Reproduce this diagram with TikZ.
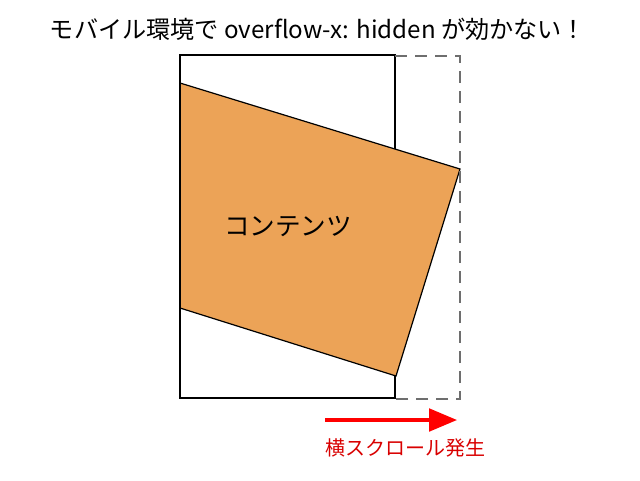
\documentclass[tikz,border=0pt]{standalone}
\usepackage{fontspec}
\setmainfont{Noto Sans CJK JP}
\usetikzlibrary{arrows.meta}
\definecolor{contentorange}{RGB}{236,163,87}
\definecolor{dashgray}{RGB}{110,110,110}
\begin{document}
\begin{tikzpicture}[x=0.75pt,y=-0.75pt,
  screen/.style={draw=black,line width=0.9pt},
  overflowline/.style={draw=dashgray,dashed,dash pattern=on 9pt off 6pt,line width=1pt},
  content/.style={fill=contentorange,draw=black,line width=0.9pt},
  scrollarrow/.style={draw=red,line width=2.4pt,-{Triangle[length=21pt,width=17pt]}},
  title/.style={font=\fontsize{18.1pt}{20pt}\selectfont},
  label/.style={font=\fontsize{19.2pt}{21pt}\selectfont},
  redlabel/.style={text=red!85!black,font=\fontsize{15pt}{17pt}\selectfont}]
\useasboundingbox (0,0) rectangle (640,480);
\fill[white] (0,0) rectangle (640,480);
% screen
\draw[screen] (180,55) rectangle (395,398);
% content
\coordinate (c1) at (180,83);
\coordinate (c2) at (460,169);
\coordinate (c3) at (396,376);
\coordinate (c4) at (180,308);
\filldraw[content] (c1) -- (c2) -- (c3) -- (c4) -- cycle;
\draw[screen] (180,55) -- (180,398);
% overflow area
\coordinate (d1) at (395,56);
\coordinate (d2) at (460,56);
\coordinate (d3) at (460,399);
\coordinate (d4) at (395,399);
\draw[overflowline] (d1) -- (d2) -- (d3) -- (d4);
% texts
\node[title] (t) at (318,29) {モバイル環境で overflow-x: hidden が効かない！};
\node[label] (c) at (288,226) {コンテンツ};
\coordinate (a1) at (325,420);
\coordinate (a2) at (457,420);
\draw[scrollarrow] (a1) -- (a2);
\node[redlabel] (r) at (405,448) {横スクロール発生};
\end{tikzpicture}
\end{document}
